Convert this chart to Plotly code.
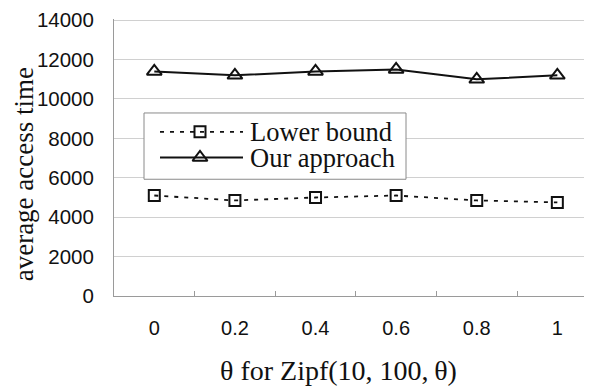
import plotly.graph_objects as go

# ---- data ----
theta_labels = ["0", "0.2", "0.4", "0.6", "0.8", "1"]
lower_bound = [5100, 4850, 5000, 5100, 4850, 4750]
our_approach = [11400, 11200, 11400, 11500, 11000, 11200]
y_ticks = [0, 2000, 4000, 6000, 8000, 10000, 12000, 14000]
y_tick_text = [str(v) for v in y_ticks]
series_names = ["Lower bound", "Our approach"]

SERIF = "Liberation Serif, Times New Roman, serif"
SANS = "Liberation Sans, Arial, sans-serif"
INK = "#111111"
AXIS = "#9a9a9a"
GRID = "#d0d0d0"

# page offset of the browser's default body margin
OFF = 8
# plot area in page pixels
L = 114; R = 592; T = 16; B = 296

# legend layout (page pixels)
LEG_BOX = dict(x0=144, x1=406, y0=111, y1=178)
LEG_ROWS = [130, 156]
LEG_LINE = (160, 243)
LEG_MARK_X = 200
LEG_TEXT_X = 248

styles = [
    dict(line=dict(color=INK, width=1.8, dash="4px,6px"),
         marker=dict(symbol="square-open", size=11, color=INK, line=dict(width=2, color=INK))),
    dict(line=dict(color=INK, width=2),
         marker=dict(symbol="triangle-up-open", size=13, color=INK, line=dict(width=2, color=INK))),
]

fig = go.Figure()

for name, vals, st in zip(series_names, [lower_bound, our_approach], styles):
    fig.add_trace(go.Scatter(
        x=theta_labels, y=vals, mode="lines+markers", name=name,
        line=st["line"], marker=st["marker"], showlegend=False,
    ))

# ---- manual legend drawn in a pixel-space overlay axis ----
bx = [LEG_BOX["x0"], LEG_BOX["x1"], LEG_BOX["x1"], LEG_BOX["x0"], LEG_BOX["x0"]]
by = [LEG_BOX["y0"], LEG_BOX["y0"], LEG_BOX["y1"], LEG_BOX["y1"], LEG_BOX["y0"]]
fig.add_trace(go.Scatter(
    x=bx, y=by, xaxis="x2", yaxis="y2", mode="lines", fill="toself",
    fillcolor="white", line=dict(color="#8a8a8a", width=1), showlegend=False,
    hoverinfo="skip",
))
for row, st in zip(LEG_ROWS, styles):
    fig.add_trace(go.Scatter(
        x=[LEG_LINE[0], LEG_LINE[1]], y=[row, row], xaxis="x2", yaxis="y2",
        mode="lines", line=st["line"], showlegend=False, hoverinfo="skip",
    ))
    fig.add_trace(go.Scatter(
        x=[LEG_MARK_X], y=[row], xaxis="x2", yaxis="y2", mode="markers",
        marker=st["marker"], showlegend=False, hoverinfo="skip",
    ))

annotations = [
    dict(text=name, xref="x2", yref="y2", x=LEG_TEXT_X, y=row, xanchor="left",
         yanchor="middle", showarrow=False, font=dict(family=SERIF, size=26.5, color=INK))
    for name, row in zip(series_names, LEG_ROWS)
] + [
    dict(text="average access time", xref="paper", yref="paper", x=(24 - L) / (R - L),
         y=(B - 173) / (B - T), textangle=-90, xanchor="center", yanchor="middle",
         showarrow=False, font=dict(family=SERIF, size=27, color=INK)),
    dict(text="\u03b8 for Zipf(10, 100,\u2009\u03b8)", xref="paper", yref="paper",
         x=(338 - L) / (R - L), y=(B - 371) / (B - T), xanchor="center", yanchor="middle",
         showarrow=False, font=dict(family=SERIF, size=28, color=INK)),
]

fig.update_layout(
    width=592 - OFF, height=388 - OFF,
    margin=dict(l=L - OFF, r=0, t=T - OFF, b=388 - B),
    paper_bgcolor="white", plot_bgcolor="white",
    showlegend=False,
    xaxis=dict(
        type="category", categoryorder="array", categoryarray=theta_labels,
        range=[-0.5, 5.43], tickson="boundaries", ticks="inside", ticklen=5,
        tickcolor=AXIS, showline=True, linecolor=AXIS, linewidth=1, showgrid=False,
        zeroline=False, tickfont=dict(family=SANS, size=20, color=INK),
        ticklabelstandoff=14,
    ),
    yaxis=dict(
        range=[0, 14060], tickvals=y_ticks, ticktext=y_tick_text, showline=True,
        linecolor=AXIS, linewidth=1, showgrid=True, gridcolor=GRID, gridwidth=1,
        zeroline=False, ticks="", tickfont=dict(family=SANS, size=20.5, color=INK),
        ticklabelstandoff=15, ticklabeloverflow="allow",
    ),
    xaxis2=dict(overlaying="x", range=[L, R], visible=False, fixedrange=True),
    yaxis2=dict(overlaying="y", range=[B, T], visible=False, fixedrange=True),
    annotations=annotations,
)

fig.write_html("out.html")
